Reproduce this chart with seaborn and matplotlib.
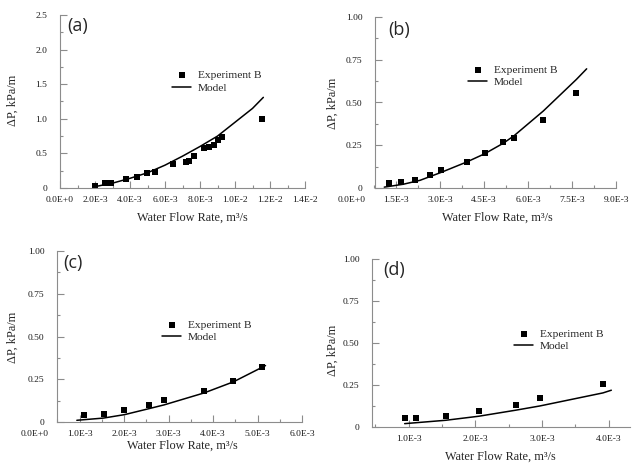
import matplotlib
matplotlib.use("Agg")
import matplotlib.pyplot as plt
import seaborn as sns
from matplotlib.ticker import FixedLocator, FixedFormatter

# ---- data ----
# panel (a)
a_exp_x = [2.00e-3, 2.55e-3, 2.91e-3, 3.77e-3, 4.38e-3, 4.99e-3, 5.43e-3, 6.44e-3, 7.18e-3,
           7.37e-3, 7.66e-3, 8.23e-3, 8.50e-3, 8.82e-3, 9.05e-3, 9.24e-3, 11.54e-3]
a_exp_y = [0.03, 0.07, 0.07, 0.126, 0.165, 0.218, 0.228, 0.34, 0.378,
           0.39, 0.46, 0.58, 0.59, 0.62, 0.70, 0.73, 1.00]
a_mod_x = [2.0e-3, 3.0e-3, 4.0e-3, 5.0e-3, 6.0e-3, 7.0e-3, 8.0e-3, 9.0e-3, 10.0e-3, 11.0e-3, 11.62e-3]
a_mod_y = [0.02, 0.07, 0.14, 0.22, 0.33, 0.46, 0.60, 0.75, 0.95, 1.15, 1.31]

# panel (b)
b_exp_x = [1.25e-3, 1.66e-3, 2.15e-3, 2.66e-3, 3.02e-3, 3.91e-3, 4.52e-3, 5.16e-3, 5.52e-3, 6.52e-3, 7.65e-3]
b_exp_y = [0.029, 0.037, 0.047, 0.078, 0.107, 0.152, 0.205, 0.268, 0.295, 0.396, 0.555]
b_mod_x = [1.10e-3, 1.75e-3, 2.32e-3, 3.02e-3, 3.91e-3, 4.52e-3, 5.16e-3, 5.52e-3, 6.52e-3, 7.65e-3, 8.0e-3]
b_mod_y = [0.005, 0.022, 0.045, 0.090, 0.152, 0.200, 0.262, 0.305, 0.450, 0.635, 0.697]

# panel (c)
c_exp_x = [1.09e-3, 1.54e-3, 2.01e-3, 2.56e-3, 2.90e-3, 3.80e-3, 4.46e-3, 5.09e-3]
c_exp_y = [0.041, 0.047, 0.068, 0.097, 0.128, 0.179, 0.241, 0.324]
c_mod_x = [0.94e-3, 1.54e-3, 2.01e-3, 2.56e-3, 2.90e-3, 3.80e-3, 4.46e-3, 5.18e-3]
c_mod_y = [0.010, 0.023, 0.043, 0.078, 0.100, 0.170, 0.235, 0.330]

# panel (d)
d_exp_x = [0.94e-3, 1.105e-3, 1.555e-3, 2.05e-3, 2.605e-3, 2.965e-3, 3.915e-3]
d_exp_y = [0.054, 0.054, 0.066, 0.094, 0.131, 0.173, 0.257]
d_mod_x = [0.94e-3, 1.555e-3, 2.05e-3, 2.605e-3, 2.965e-3, 3.915e-3, 4.04e-3]
d_mod_y = [0.020, 0.040, 0.064, 0.100, 0.125, 0.203, 0.219]

# tick labels
a_xticks = [0, 2e-3, 4e-3, 6e-3, 8e-3, 10e-3, 12e-3, 14e-3]
a_xlabels = ["0.0E+0", "2.0E-3", "4.0E-3", "6.0E-3", "8.0E-3", "1.0E-2", "1.2E-2", "1.4E-2"]
a_yticks = [0, 0.5, 1.0, 1.5, 2.0, 2.5]
a_ylabels = ["0", "0.5", "1.0", "1.5", "2.0", "2.5"]
b_xticks = [0, 1.5e-3, 3.0e-3, 4.5e-3, 6.0e-3, 7.5e-3, 9.0e-3]
b_xlabels = ["0.0E+0", "1.5E-3", "3.0E-3", "4.5E-3", "6.0E-3", "7.5E-3", "9.0E-3"]
c_xticks = [0, 1e-3, 2e-3, 3e-3, 4e-3, 5e-3, 6e-3]
c_xlabels = ["0.0E+0", "1.0E-3", "2.0E-3", "3.0E-3", "4.0E-3", "5.0E-3", "6.0E-3"]
d_xticks = [1e-3, 2e-3, 3e-3, 4e-3]
d_xlabels = ["1.0E-3", "2.0E-3", "3.0E-3", "4.0E-3"]
q_yticks = [0, 0.25, 0.5, 0.75, 1.0]
q_ylabels = ["0", "0.25", "0.50", "0.75", "1.00"]

sns.set_style("white")
plt.rcParams['font.family'] = ['Liberation Serif', 'DejaVu Serif']

W, H = 640, 465
fig = plt.figure(figsize=(6.4, 4.65), dpi=100)

spine_col = "#8c8c8c"


def px_rect(x0, x1, y_bottom, y_top):
    return [x0 / W, 1 - y_bottom / H, (x1 - x0) / W, (y_bottom - y_top) / H]


panels = [
    dict(rect=px_rect(60, 305, 188, 15), xlim=(0, 14e-3), ylim=(0, 2.5), spine=0,
         exp=(a_exp_x, a_exp_y), mod=(a_mod_x, a_mod_y),
         xt=(a_xticks, a_xlabels), yt=(a_yticks, a_ylabels), ymin=0.25,
         ylab=(13, 100), xlab=(192, 218), leg=(172, 81.5), letter=("(a)", 78, 26)),
    dict(rect=px_rect(352, 616, 188, 17), xlim=(0, 9e-3), ylim=(0, 1.0), spine=0.78e-3,
         exp=(b_exp_x, b_exp_y), mod=(b_mod_x, b_mod_y),
         xt=(b_xticks, b_xlabels), yt=(q_yticks, q_ylabels), ymin=0.125,
         ylab=(333, 103), xlab=(497, 218), leg=(468, 76), letter=("(b)", 399, 30)),
    dict(rect=px_rect(35, 302, 422, 251), xlim=(0, 6e-3), ylim=(0, 1.0), spine=0.5e-3,
         exp=(c_exp_x, c_exp_y), mod=(c_mod_x, c_mod_y),
         xt=(c_xticks, c_xlabels), yt=(q_yticks, q_ylabels), ymin=0.125,
         ylab=(13, 337), xlab=(182, 446), leg=(162, 331), letter=("(c)", 73, 263)),
    dict(rect=px_rect(342, 630, 427, 259), xlim=(0, 4.32e-3), ylim=(0, 1.0), spine=0.45e-3,
         exp=(d_exp_x, d_exp_y), mod=(d_mod_x, d_mod_y),
         xt=(d_xticks, d_xlabels), yt=(q_yticks, q_ylabels), ymin=0.125,
         ylab=(333, 350), xlab=(500, 457), leg=(514, 340), letter=("(d)", 394, 270)),
]

for p in panels:
    ax = fig.add_axes(p["rect"])
    ax.patch.set_alpha(0)
    sns.scatterplot(x=p["exp"][0], y=p["exp"][1], marker='s', color='black', s=24,
                    linewidth=0, ax=ax, label='Experiment B', legend=False)
    sns.lineplot(x=p["mod"][0], y=p["mod"][1], color='black', linewidth=1.1, ax=ax,
                 label='Model', legend=False)
    ax.set_xlim(*p["xlim"])
    ax.set_ylim(*p["ylim"])

    for s in ["top", "right"]:
        ax.spines[s].set_visible(False)
    for s in ["left", "bottom"]:
        ax.spines[s].set_color(spine_col)
        ax.spines[s].set_linewidth(0.8)
    ax.spines["left"].set_position(("data", p["spine"]))
    ax.spines["bottom"].set_bounds(p["spine"], p["xlim"][1])

    xt, xl = p["xt"]
    ax.xaxis.set_major_locator(FixedLocator(xt))
    ax.xaxis.set_major_formatter(FixedFormatter(xl))
    step = xt[1] - xt[0]
    minors = [t + step / 2 for t in xt[:-1]]
    if xt[0] - step / 2 > p["spine"]:
        minors.append(xt[0] - step / 2)
    ax.xaxis.set_minor_locator(FixedLocator(minors))
    yt, yl = p["yt"]
    ax.yaxis.set_major_locator(FixedLocator(yt))
    ax.yaxis.set_major_formatter(FixedFormatter(yl))
    ax.yaxis.set_minor_locator(FixedLocator([t + p["ymin"] for t in yt[:-1]]))

    ax.tick_params(which='both', direction='in', color=spine_col, width=0.8,
                   bottom=True, left=True, top=False, right=False,
                   labelsize=6.8, labelcolor='#1a1a1a')
    ax.tick_params(which='major', length=5)
    ax.tick_params(which='minor', length=2.5)
    ax.tick_params(axis='x', pad=6)
    ax.tick_params(axis='y', pad=9)
    # the 0 tick hangs left of the offset y axis: hide its mark
    for t, v in zip(ax.xaxis.get_major_ticks(), xt):
        if v < p["spine"]:
            t.tick1line.set_visible(False)

    ax.set_ylabel("ΔP, kPa/m", fontsize=8.8, va='center', ha='center')
    ax.yaxis.set_label_coords(p["ylab"][0] / W, 1 - p["ylab"][1] / H, transform=fig.transFigure)
    ax.set_xlabel("Water Flow Rate, m³/s", fontsize=8.8, va='center', ha='center')
    ax.xaxis.set_label_coords(p["xlab"][0] / W, 1 - p["xlab"][1] / H, transform=fig.transFigure)

    handles = [ax.collections[0], ax.lines[0]]
    ax.legend(handles, ['Experiment B', 'Model'], loc='center left',
              bbox_to_anchor=(p["leg"][0] / W, 1 - p["leg"][1] / H), bbox_transform=fig.transFigure,
              frameon=False, borderpad=0, borderaxespad=0, handlelength=1.7, handletextpad=0.55,
              labelspacing=0.2, fontsize=8.2)

    txt, lx, ly = p["letter"]
    fig.text(lx / W, 1 - ly / H, txt, fontsize=13, family='Open Sans', ha='center', va='center')

fig.savefig("out.png", dpi=100)
